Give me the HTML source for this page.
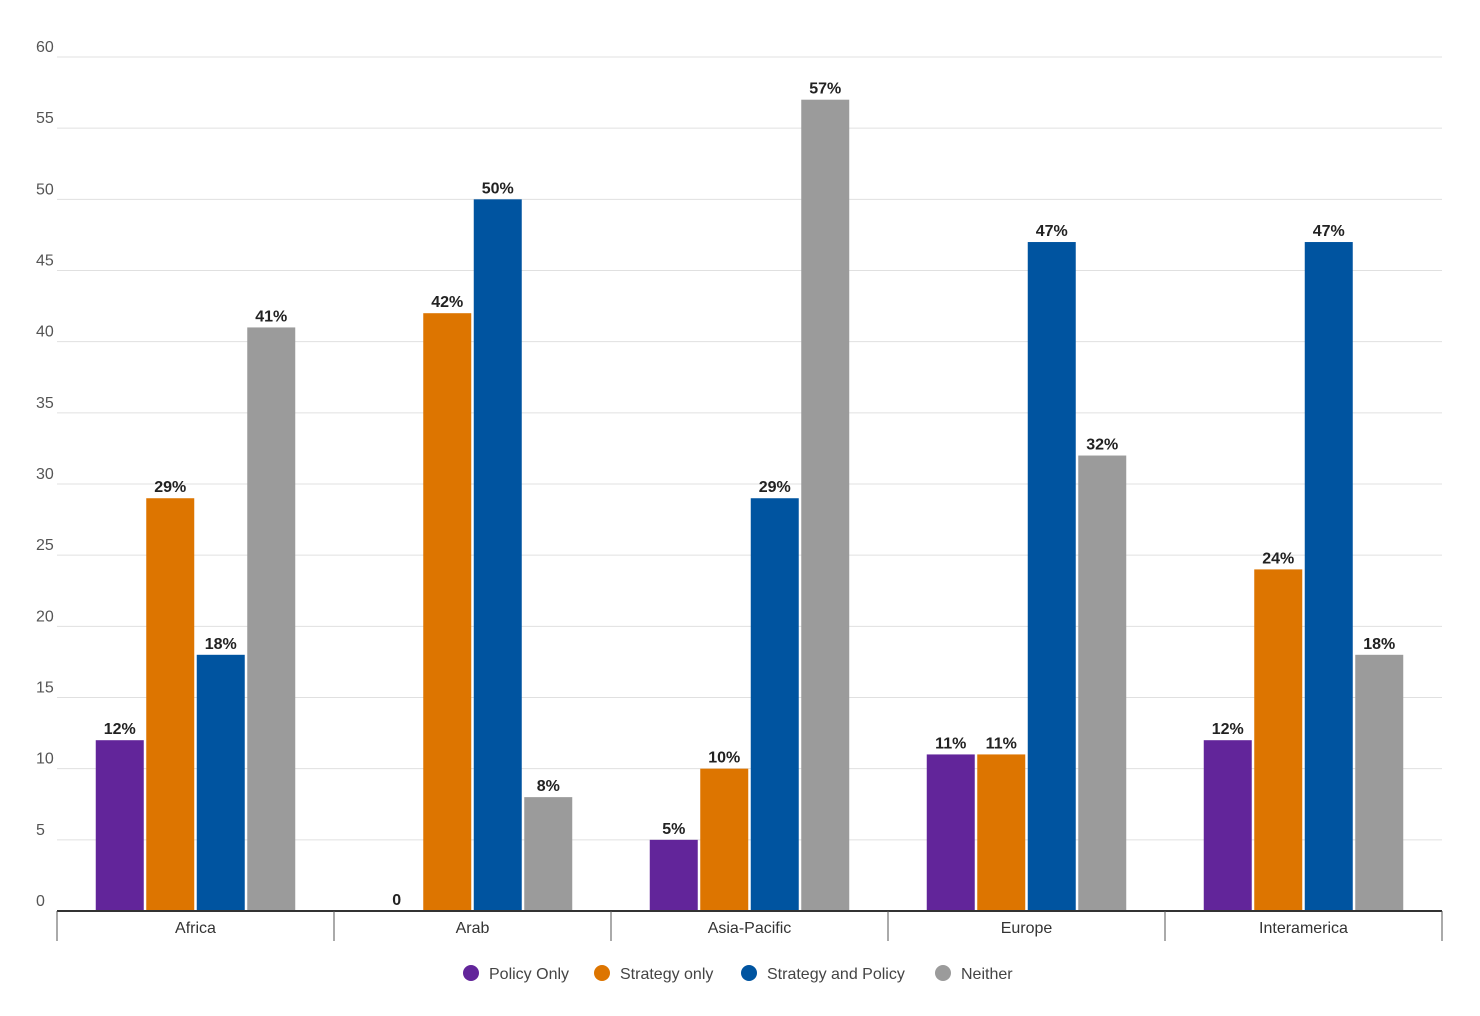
<!DOCTYPE html>
<html><head><meta charset="utf-8">
<style>
html,body{margin:0;padding:0;background:#fff;}
svg{display:block;font-family:"Liberation Sans",Arial,sans-serif;}
</style></head>
<body>
<svg id="chart" width="1480" height="1016" viewBox="0 0 1480 1016" xmlns="http://www.w3.org/2000/svg">
<g id="grid"></g>
<g id="yticks"></g>
<g id="bars"></g>
<g id="labels"></g>
<g id="xaxis"></g>
<g id="legend">
  <g><circle cx="471" cy="973" r="8" fill="#62259a"/><text x="489" y="979" font-size="16" fill="#444">Policy Only</text></g>
  <g><circle cx="602" cy="973" r="8" fill="#dd7500"/><text x="620" y="979" font-size="16" fill="#444">Strategy only</text></g>
  <g><circle cx="749" cy="973" r="8" fill="#0054a0"/><text x="767" y="979" font-size="16" fill="#444">Strategy and Policy</text></g>
  <g><circle cx="943" cy="973" r="8" fill="#9b9b9b"/><text x="961" y="979" font-size="16" fill="#444">Neither</text></g>
</g>
</svg>
<script>
const categories = ["Africa","Arab","Asia-Pacific","Europe","Interamerica"];
const policyOnly = [12,0,5,11,12];
const strategyOnly = [29,42,10,11,24];
const strategyAndPolicy = [18,50,29,47,47];
const neither = [41,8,57,32,18];
const yTicks = [0,5,10,15,20,25,30,35,40,45,50,55,60];
const seriesNames = ["policy-only","strategy-only","strategy-and-policy","neither"];
const seriesColors = ["#62259a","#dd7500","#0054a0","#9b9b9b"];

const NS = "http://www.w3.org/2000/svg";
const x0 = 57, x1 = 1442, yBase = 911, yTop = 57, yMax = 60;
function yScale(v){ return yBase - (v / yMax) * (yBase - yTop); }
const groupW = (x1 - x0) / categories.length;
function groupX(i){ return x0 + i * groupW; }
function mk(tag, attrs, parent){ const e = document.createElementNS(NS, tag); for (const k in attrs) e.setAttribute(k, attrs[k]); parent.appendChild(e); return e; }

const grid = document.getElementById('grid');
const yt = document.getElementById('yticks');
yTicks.forEach(t => {
  if (t > 0) {
    const l = mk('line', {x1: x0, x2: x1, y1: yScale(t), y2: yScale(t), stroke: '#e0e0e0', 'stroke-width': 1}, grid);
    
    
  }
  const tx = mk('text', {x: 36, y: yScale(t) - 5, 'font-size': 16, fill: '#555'}, yt);
  tx.textContent = t;
  
  
});

const series = [policyOnly, strategyOnly, strategyAndPolicy, neither];
const bars = document.getElementById('bars');
const labels = document.getElementById('labels');
const barW = 48, step = 50.5;
categories.forEach((c, i) => {
  const start = groupX(i) + (groupW - 4 * step + (step - barW)) / 2;
  series.forEach((s, j) => {
    const v = s[i];
    const bx = start + j * step;
    const r = mk('rect', {x: bx, y: yScale(v), width: barW, height: yBase - yScale(v), fill: seriesColors[j]}, bars);
    
    
    const t = mk('text', {x: bx + barW / 2, y: yScale(v) - 6, 'font-size': 16, 'text-anchor': 'middle', fill: '#222', 'font-weight': 'bold'}, labels);
    t.textContent = v === 0 ? '0' : v + '%';
    
    
  });
});

const xa = document.getElementById('xaxis');
const axl = mk('line', {x1: x0, x2: x1, y1: yBase, y2: yBase, stroke: '#333', 'stroke-width': 2}, xa);


for (let i = 0; i <= categories.length; i++) {
  const tk = mk('line', {x1: groupX(i), x2: groupX(i), y1: yBase, y2: 941, stroke: '#555', 'stroke-width': 1}, xa);
  
  
}
categories.forEach((c, i) => {
  const t = mk('text', {x: groupX(i) + groupW / 2, y: 933, 'font-size': 16, 'text-anchor': 'middle', fill: '#333'}, xa);
  t.textContent = c;
  
  
});
</script>
</body></html>
